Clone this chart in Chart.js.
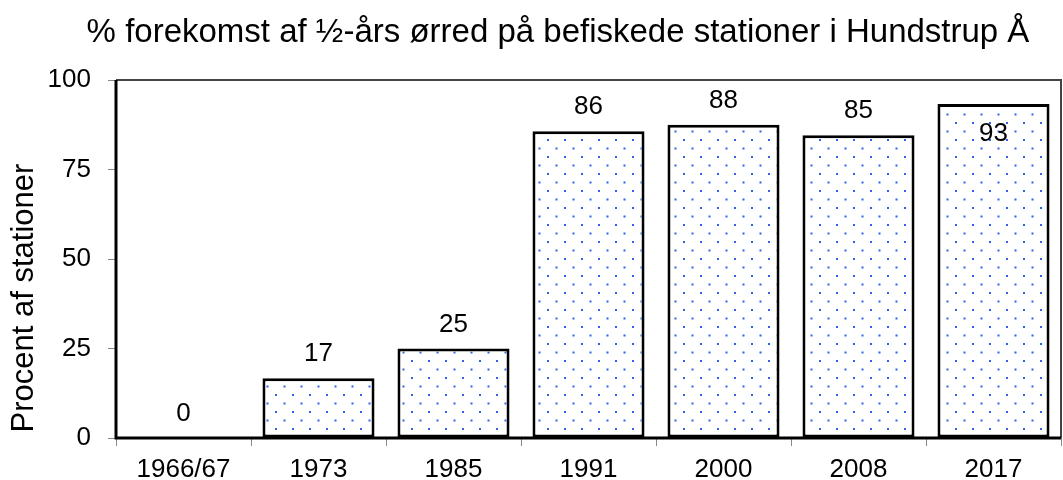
<!DOCTYPE html>
<html lang="da">
<head>
<meta charset="UTF-8">
<title>Hundstrup Å</title>
<script src="https://cdn.jsdelivr.net/npm/chart.js"></script>
<style>
  body { margin: 0; background: #fff; }
  #wrap { width: 1063px; height: 480px; }
</style>
</head>
<body>
<div id="wrap"><canvas id="c" width="1063" height="480"></canvas></div>
<script>
const years = ['1966/67', '1973', '1985', '1991', '2000', '2008', '2017'];
const percent = [0, 16.7, 25, 85.7, 87.5, 84.6, 93.3];
const yTicks = [0, 25, 50, 75, 100];
const titleText = '% forekomst af ½-års ørred på befiskede stationer i Hundstrup Å';
const yTitleText = 'Procent af stationer';

const FONT = "'Liberation Sans', Arial, sans-serif";

// dotted fill like the original
function dotPattern() {
  const t = document.createElement('canvas');
  t.width = 17; t.height = 17;
  const g = t.getContext('2d');
  g.fillStyle = '#fff';
  g.fillRect(0, 0, 17, 17);
  g.fillStyle = '#2f62f0';
  g.fillRect(3, 3, 2, 2);
  g.fillRect(11.5, 11.5, 2, 2);
  return g.createPattern(t, 'repeat');
}

// box around the plot + both titles
const frame = {
  id: 'frame',
  afterDraw(chart) {
    const a = chart.chartArea, ctx = chart.ctx;
    ctx.save();
    ctx.strokeStyle = '#444';
    ctx.lineWidth = 2;
    ctx.beginPath();
    ctx.moveTo(a.left, a.top); ctx.lineTo(a.right, a.top); ctx.lineTo(a.right, a.bottom);
    ctx.stroke();
    ctx.strokeStyle = '#000';
    ctx.lineWidth = 3;
    ctx.beginPath();
    ctx.moveTo(a.left, a.top); ctx.lineTo(a.left, a.bottom); ctx.lineTo(a.right, a.bottom);
    ctx.stroke();

    ctx.fillStyle = '#000';
    ctx.textAlign = 'center';
    ctx.textBaseline = 'alphabetic';
    ctx.font = '33px ' + FONT;
    ctx.fillText(titleText, 558, 42);

    ctx.translate(33, 298);
    ctx.rotate(-Math.PI / 2);
    ctx.font = '31px ' + FONT;
    ctx.fillText(yTitleText, 0, 0);
    ctx.restore();
  }
};

const valueLabels = {
  id: 'valueLabels',
  afterDatasetsDraw(chart) {
    const ctx = chart.ctx;
    const meta = chart.getDatasetMeta(0);
    ctx.save();
    ctx.font = '26px ' + FONT;
    ctx.fillStyle = '#000';
    ctx.textAlign = 'center';
    ctx.textBaseline = 'middle';
    meta.data.forEach((bar, i) => {
      let y = bar.y - 24;
      if (y < chart.chartArea.top + 10) y = bar.y + 30;
      ctx.fillText(Math.round(percent[i]), bar.x, y);
    });
    ctx.restore();
  }
};

new Chart(document.getElementById('c'), {
  type: 'bar',
  data: {
    labels: years,
    datasets: [{
      data: percent,
      backgroundColor: dotPattern(),
      borderColor: '#000',
      borderWidth: percent.map(v => v === 0 ? 0 : 3),
      borderSkipped: false,
      barPercentage: 0.83,
      categoryPercentage: 1
    }]
  },
  options: {
    responsive: false,
    animation: false,
    layout: { padding: { left: 0, right: 2, top: 80, bottom: 0 } },
    plugins: {
      legend: { display: false },
      tooltip: { enabled: false },
      title: { display: false }
    },
    scales: {
      x: {
        grid: { display: true, drawOnChartArea: false, drawTicks: true, tickLength: 8, color: '#888', offset: true },
        border: { display: false },
        ticks: { color: '#000', font: { family: FONT, size: 26 }, padding: 8, maxRotation: 0 },
        afterFit(s) { s.height = 42; }
      },
      y: {
        min: 0, max: 100,
        afterBuildTicks(s) { s.ticks = yTicks.map(v => ({ value: v })); },
        grid: { display: true, drawOnChartArea: false, drawTicks: true, tickLength: 8, color: '#888' },
        border: { display: false },
        ticks: { color: '#000', font: { family: FONT, size: 26 }, padding: 17 },
        afterFit(s) { s.width = 116; }
      }
    }
  },
  plugins: [frame, valueLabels]
});
</script>
</body>
</html>
